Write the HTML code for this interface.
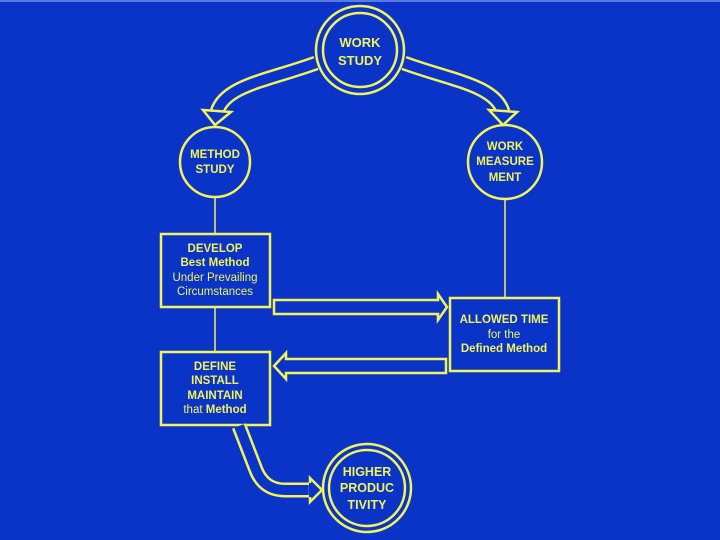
<!DOCTYPE html>
<html><head><style>
html,body{margin:0;padding:0;background:#0a34c8;}
svg{display:block;}
text{font-family:"Liberation Sans",sans-serif;font-weight:bold;fill:#f2f25a;text-anchor:middle;}
.n{font-weight:normal;}
</style></head><body>
<svg width="720" height="540" viewBox="0 0 720 540" xmlns="http://www.w3.org/2000/svg">
<rect width="720" height="540" fill="#0a34c8"/>
<rect width="720" height="2" fill="#5a7ae0"/>
<g fill="none" stroke="#f2f25a" stroke-width="2.5">
<!-- connector lines -->
<line x1="215" y1="197" x2="215" y2="234" stroke-width="1.5"/>
<line x1="215" y1="307" x2="215" y2="352" stroke-width="1.5"/>
<line x1="505" y1="199" x2="505" y2="298" stroke-width="1.5"/>
<!-- circles -->
<circle cx="360" cy="50" r="44"/>
<circle cx="360" cy="50" r="37"/>
<circle cx="215" cy="162" r="35"/>
<circle cx="505" cy="162" r="37"/>
<circle cx="367" cy="488" r="44"/>
<circle cx="367" cy="488" r="38"/>
<!-- boxes -->
<rect x="161" y="234" width="109" height="73"/>
<rect x="161" y="352" width="109" height="73"/>
<rect x="450" y="298" width="109" height="73"/>
</g>
<!-- hollow arrows -->
<g fill="none" stroke-linejoin="miter">
<path d="M316,63 C270,80 225,85 217,112" stroke="#f2f25a" stroke-width="15"/>
<path d="M316,63 C270,80 225,85 217,112" stroke="#0a34c8" stroke-width="10"/>
<path d="M404,63 C450,80 495,85 503,112" stroke="#f2f25a" stroke-width="15"/>
<path d="M404,63 C450,80 495,85 503,112" stroke="#0a34c8" stroke-width="10"/>
<path d="M239,426 L256,470 Q264,490 285,490 L310,490" stroke="#f2f25a" stroke-width="15"/>
<path d="M239,426 L256,470 Q264,490 285,490 L312,490" stroke="#0a34c8" stroke-width="10"/>
</g>
<g fill="#0a34c8" stroke="#f2f25a" stroke-width="2.5">
<polygon points="203,110 231,112 215,125"/>
<polygon points="489,110 517,112 503,125"/>
<polygon points="310,478 322,490 310,502"/>
<polygon points="274,300 438,300 438,294 447,307 438,320 438,314 274,314"/>
<polygon points="446,359 286,359 286,353 274,366 286,379 286,373 446,373"/>
</g>
<rect x="309" y="483" width="4" height="14" fill="#0a34c8"/>
<!-- text -->
<text x="360" y="47" font-size="13">WORK</text>
<text x="360" y="65" font-size="13">STUDY</text>
<text x="215" y="158" font-size="11.5">METHOD</text>
<text x="215" y="173" font-size="11.5">STUDY</text>
<text x="505" y="150" font-size="11.5">WORK</text>
<text x="505" y="165" font-size="11.5">MEASURE</text>
<text x="505" y="181" font-size="11.5">MENT</text>
<text x="215" y="252" font-size="11.5">DEVELOP</text>
<text x="215" y="266" font-size="11.5">Best Method</text>
<text x="215" y="281" font-size="11.5" class="n">Under Prevailing</text>
<text x="215" y="295" font-size="11.5" class="n">Circumstances</text>
<text x="215" y="370" font-size="11.5">DEFINE</text>
<text x="215" y="384" font-size="11.5">INSTALL</text>
<text x="215" y="399" font-size="11.5">MAINTAIN</text>
<text x="215" y="413" font-size="11.5"><tspan class="n">that</tspan> Method</text>
<text x="504" y="323" font-size="11.5">ALLOWED TIME</text>
<text x="504" y="338" font-size="11.5" class="n">for the</text>
<text x="504" y="352" font-size="11.5">Defined Method</text>
<text x="367" y="476" font-size="12.5">HIGHER</text>
<text x="367" y="492" font-size="12.5">PRODUC</text>
<text x="367" y="509" font-size="12.5">TIVITY</text>
</svg>
</body></html>
